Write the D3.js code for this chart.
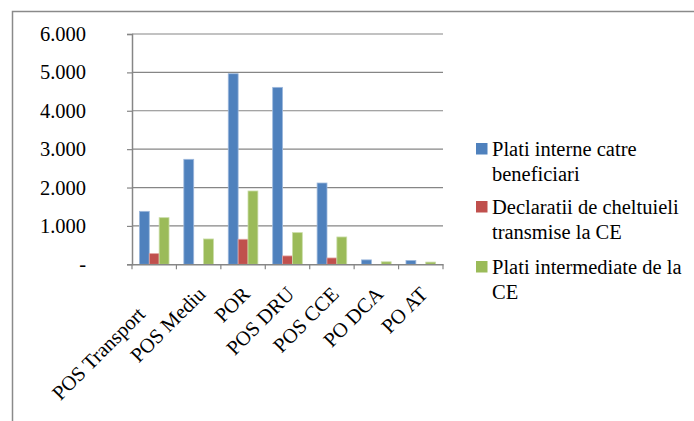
<!DOCTYPE html>
<html>
<head>
<meta charset="utf-8">
<script src="https://cdn.jsdelivr.net/npm/d3@7"></script>
<style>
  html, body { margin: 0; padding: 0; background: #ffffff; }
  svg { display: block; }
</style>
</head>
<body>
<svg id="chart" width="694" height="421"></svg>
<script>
const categories = ["POS Transport", "POS Mediu", "POR", "POS DRU", "POS CCE", "PO DCA", "PO AT"];
const seriesNames = ["Plati interne catre beneficiari", "Declaratii de cheltuieli transmise la CE", "Plati intermediate de la CE"];
const platiInterne = [1380, 2735, 4965, 4610, 2118, 115, 100];
const declaratii = [278, 0, 652, 218, 165, 0, 0];
const platiIntermediate = [1215, 660, 1910, 825, 712, 65, 58];
const yTicks = [0, 1000, 2000, 3000, 4000, 5000, 6000];
const yTickLabels = ["-", "1.000", "2.000", "3.000", "4.000", "5.000", "6.000"];
const colors = ["#4F81BD", "#C0504D", "#9BBB59"];
const strokeColors = ["#9DB8DC", "#E0A3A1", "#CADDA8"];

const seriesValues = [platiInterne, declaratii, platiIntermediate];

const svg = d3.select("#chart");
const W = 694, H = 421;
const fontSize = 20.5;
const FONT = "'Liberation Serif', 'Times New Roman', serif";

svg.append("rect")
  .attr("x", 12.5).attr("y", 11.5)
  .attr("width", W + 10).attr("height", H + 10)
  .attr("fill", "none").attr("stroke", "#8a8a8a").attr("stroke-width", 1.5);

const plot = { left: 132, right: 443, top: 34, bottom: 264.3 };

const x0 = d3.scaleBand().domain(categories).range([plot.left, plot.right]).paddingInner(0).paddingOuter(0);
const x1 = d3.scaleBand().domain([0, 1, 2]).range([0, x0.bandwidth()]).paddingOuter(0.75).paddingInner(0);
const y = d3.scaleLinear().domain([0, 6000]).range([plot.bottom, plot.top]);

const gridColor = "#868686";

svg.append("g").selectAll("line").data(yTicks.filter(d => d > 0)).join("line")
  .attr("x1", plot.left).attr("x2", plot.right)
  .attr("y1", d => y(d)).attr("y2", d => y(d))
  .attr("stroke", gridColor).attr("stroke-width", 1.2);

const groups = svg.append("g").selectAll("g").data(categories).join("g")
  .attr("transform", d => `translate(${x0(d)},0)`);
groups.selectAll("rect")
  .data((c, i) => seriesValues.map((vals, s) => ({ s, v: vals[i] })).filter(d => d.v > 0))
  .join("rect")
  .attr("x", d => x1(d.s))
  .attr("width", x1.bandwidth())
  .attr("y", d => y(d.v))
  .attr("height", d => y(0) - y(d.v))
  .attr("fill", d => colors[d.s])
  .attr("stroke", d => strokeColors[d.s])
  .attr("stroke-width", 0.8);

const yAxis = d3.axisLeft(y).tickValues(yTicks).tickSize(5).tickFormat((d, i) => yTickLabels[i]);
const gy = svg.append("g").attr("transform", `translate(${plot.left},0)`).call(yAxis);
gy.select(".domain").attr("stroke", gridColor).attr("stroke-width", 1.5);
gy.selectAll(".tick line").attr("stroke", gridColor).attr("stroke-width", 1.2);
gy.selectAll(".tick text")
  .attr("x", -46)
  .style("font-size", fontSize + "px")
  .style("font-family", FONT).attr("fill", "#000");

const xAxis = d3.axisBottom(x0).tickSize(0).tickFormat("");
const gx = svg.append("g").attr("transform", `translate(0,${plot.bottom})`).call(xAxis);
gx.select(".domain").attr("stroke", gridColor).attr("stroke-width", 1.5);
gx.selectAll(".tick").remove();
const boundaries = categories.map(c => x0(c)).concat([plot.right]);
gx.append("g").selectAll("line").data(boundaries).join("line")
  .attr("x1", d => d).attr("x2", d => d).attr("y1", 0).attr("y2", 5)
  .attr("stroke", gridColor).attr("stroke-width", 1.2);

svg.append("g").selectAll("text").data(categories).join("text")
  .attr("transform", (d, i) => {
    const cx = x0(d) + x0.bandwidth() / 2;
    const dx = i === 0 ? -16 : 0;
    const dy = i === 0 ? 20 : 0;
    return `translate(${cx + 3 + dx},${plot.bottom + 26 + dy}) rotate(-45)`;
  })
  .attr("text-anchor", "end")
  .attr("dy", "0.35em")
  .style("font-size", fontSize + "px")
  .style("font-family", FONT)
  .attr("fill", "#000")
  .text(d => d);

const legend = svg.append("g");
const legendX = 476, legendTextX = 492, maxW = 200;
const entryTops = [143, 201, 261];
seriesNames.forEach((name, s) => {
  legend.append("rect")
    .attr("x", legendX).attr("y", entryTops[s])
    .attr("width", 11.5).attr("height", 11.5)
    .attr("fill", colors[s]);
  const t = legend.append("text")
    .attr("x", legendTextX).attr("y", entryTops[s] + 13)
    .style("font-size", fontSize + "px")
    .style("font-family", FONT)
    .attr("fill", "#000");
  const words = name.split(" ");
  let line = [];
  let tspan = t.append("tspan").attr("x", legendTextX).attr("dy", 0);
  words.forEach(w => {
    line.push(w);
    tspan.text(line.join(" "));
    if (tspan.node().getComputedTextLength() > maxW && line.length > 1) {
      line.pop();
      tspan.text(line.join(" "));
      line = [w];
      tspan = t.append("tspan").attr("x", legendTextX).attr("dy", 24.5).text(w);
    }
  });
});
</script>
</body>
</html>
